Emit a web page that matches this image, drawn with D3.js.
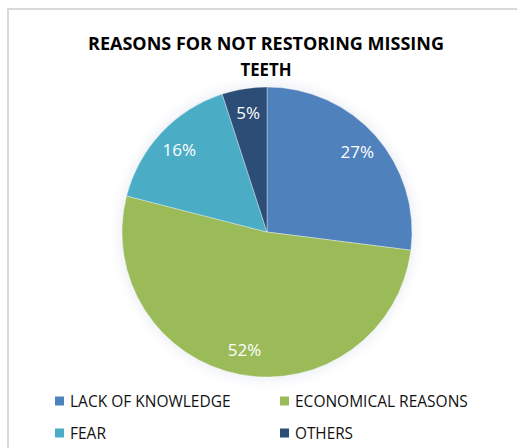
<!DOCTYPE html>
<html>
<head>
<meta charset="utf-8">
<script src="https://cdn.jsdelivr.net/npm/d3@7"></script>
<style>
  body { margin: 0; background: #fff; }
  svg { display: block; }
</style>
</head>
<body>
<svg id="chart" width="517" height="448"></svg>
<script>
// data
var categories = ["LACK OF KNOWLEDGE", "ECONOMICAL REASONS", "FEAR", "OTHERS"];
var values = [27, 52, 16, 5];
var colors = ["#4f81bd", "#9bbb59", "#4bacc6", "#2c4d75"];
var titleLines = ["REASONS FOR NOT RESTORING MISSING", "TEETH"];

var svg = d3.select("#chart");
var font = "'Open Sans', 'Liberation Sans', sans-serif";

// outer chart frame (only top and left edges visible)
svg.append("path")
    .attr("d", "M8,448 L8,9 L517,9")
    .attr("fill", "none")
    .attr("stroke", "#d9d9d9")
    .attr("stroke-width", 2);

// title, squeezed to the width it takes in the reference
var titleWidths = [360, 51];
titleLines.forEach(function(t, i) {
    var txt = svg.append("text")
        .attr("x", 266)
        .attr("y", 50 + i * 26)
        .attr("text-anchor", "middle")
        .attr("font-family", font)
        .attr("font-weight", "bold")
        .attr("font-size", 18)
        .attr("fill", "#000")
        .text(t);
    var w = txt.node().getComputedTextLength();
    if (w > titleWidths[i]) {
        txt.attr("textLength", titleWidths[i]).attr("lengthAdjust", "spacingAndGlyphs");
    }
});

// pie
var cx = 267, cy = 232, r = 145;
var g = svg.append("g").attr("transform", "translate(" + cx + "," + cy + ")");

var pie = d3.pie().sort(null).value(function(d) { return d; });
var arcs = pie(values);
var arc = d3.arc().innerRadius(0).outerRadius(r);
var labelArc = d3.arc().innerRadius(r * 0.83).outerRadius(r * 0.83);

// soft glow round the pie
var defs = svg.append("defs");
var glow = defs.append("filter").attr("id", "glow")
    .attr("x", "-20%").attr("y", "-20%").attr("width", "140%").attr("height", "140%");
glow.append("feGaussianBlur").attr("stdDeviation", 6);
g.append("circle").attr("r", r + 3).attr("fill", "#dfe4ee").attr("opacity", 0.6)
    .attr("filter", "url(#glow)");

g.selectAll("path.slice")
    .data(arcs)
    .enter().append("path")
    .attr("class", "slice")
    .attr("d", arc)
    .attr("fill", function(d, i) { return colors[i]; })
    .attr("stroke", "rgba(255,255,255,0.35)")
    .attr("stroke-width", 1);

g.selectAll("text.lbl")
    .data(arcs)
    .enter().append("text")
    .attr("class", "lbl")
    .attr("transform", function(d) { return "translate(" + labelArc.centroid(d) + ")"; })
    .attr("dy", "0.35em")
    .attr("text-anchor", "middle")
    .attr("font-family", font)
    .attr("font-size", 17)
    .attr("fill", "#fff")
    .text(function(d) { return d.data + "%"; });

// legend, 2 x 2
var legX = [55, 280], legY = [401, 433];
var leg = svg.selectAll("g.leg")
    .data(categories)
    .enter().append("g")
    .attr("class", "leg")
    .attr("transform", function(d, i) {
        return "translate(" + legX[i % 2] + "," + legY[Math.floor(i / 2)] + ")";
    });
leg.append("rect")
    .attr("x", 0).attr("y", -4.5)
    .attr("width", 9).attr("height", 9)
    .attr("fill", function(d, i) { return colors[i]; });
leg.append("text")
    .attr("x", 15)
    .attr("y", 0)
    .attr("dy", "0.36em")
    .attr("font-family", font)
    .attr("font-size", 15.5)
    .attr("fill", "#111")
    .text(function(d) { return d; })
    .each(function(d, i) {
        var target = [165, 180, 40, 58][i];
        var w = this.getComputedTextLength();
        if (w > target) {
            d3.select(this).attr("textLength", target).attr("lengthAdjust", "spacingAndGlyphs");
        }
    });
</script>
</body>
</html>
